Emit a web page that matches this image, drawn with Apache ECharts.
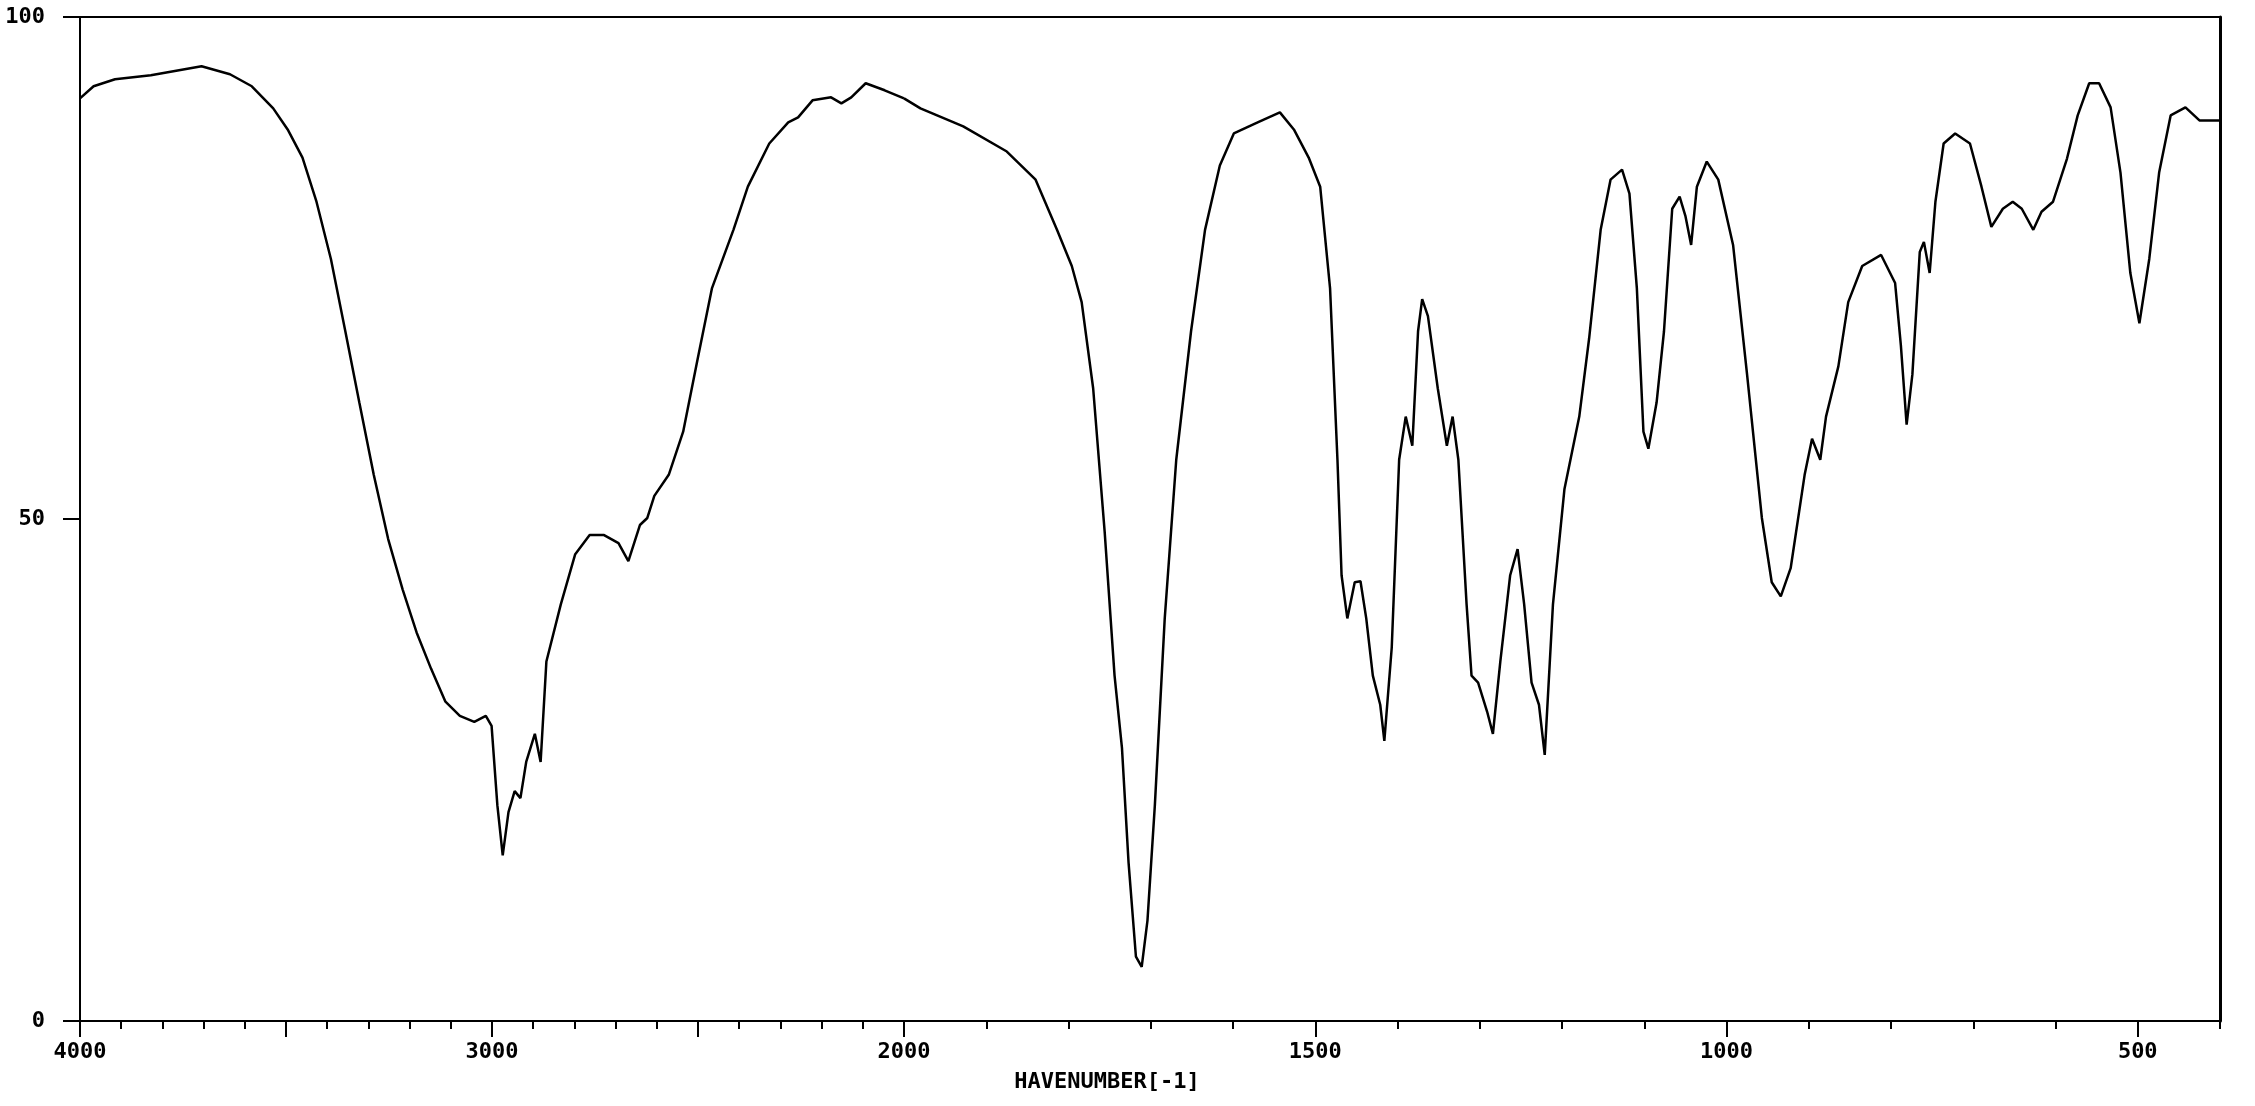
<!DOCTYPE html>
<html>
<head>
<meta charset="utf-8">
<script src="https://cdn.jsdelivr.net/npm/echarts@6/dist/echarts.min.js"></script>
<style>
html,body{margin:0;padding:0;background:#fff;}
#chart{width:2255px;height:1106px;}
</style>
</head>
<body>
<div id="chart"></div>
<script>
// Wavenumber (cm-1) and transmittance (%)
const wavenumbers = [
  4000, 3967, 3915, 3828, 3705, 3636, 3583, 3531, 3496, 3460, 3426, 3391, 3356, 3322, 3287, 3252,
  3217, 3183, 3148, 3113, 3078, 3043, 3015, 3001, 2987, 2974, 2960, 2945, 2931, 2917, 2896, 2882,
  2868, 2833, 2798, 2763, 2728, 2693, 2669, 2641, 2623, 2606, 2571, 2536, 2501, 2466, 2414, 2379,
  2327, 2281, 2257, 2222, 2177, 2152, 2128, 2093, 2047, 2000,
  1980, 1928, 1875, 1840, 1814, 1796, 1784, 1770, 1756, 1744, 1735, 1727, 1718, 1711, 1704, 1695,
  1683, 1669, 1651, 1634, 1616, 1599, 1570, 1543, 1526, 1508, 1494, 1482, 1473, 1468, 1461, 1452,
  1445, 1438, 1430, 1421, 1416, 1407, 1398, 1390, 1382, 1375, 1370, 1363, 1351, 1340, 1333, 1326,
  1316, 1310, 1302, 1291, 1284, 1275, 1263, 1254, 1246, 1237, 1228, 1221, 1211, 1197, 1179, 1167,
  1153, 1141, 1127, 1118, 1109, 1101, 1095, 1085, 1076, 1066, 1057, 1050, 1043, 1036, 1024, 1010,
  992, 975, 957, 945, 934, 922, 905, 896, 886, 879, 864, 852, 835, 812, 795, 788,
  781, 774, 765, 760, 753, 746, 736, 722, 704, 690, 678, 664, 652, 641, 627, 617,
  603, 586, 573, 559, 547, 533, 521, 509, 498, 486, 474, 460, 442, 425, 400
];
const transmittance = [
  91.9, 93.1, 93.8, 94.2, 95.1, 94.3, 93.1, 90.9, 88.8, 86.0, 81.6, 75.9, 68.7, 61.6, 54.4, 48.0,
  43.0, 38.7, 35.1, 31.8, 30.4, 29.8, 30.4, 29.4, 21.5, 16.5, 20.8, 22.9, 22.2, 25.8, 28.6, 25.8,
  35.8, 41.5, 46.5, 48.4, 48.4, 47.6, 45.8, 49.4, 50.1, 52.3, 54.4, 58.7, 65.9, 73.0, 78.8, 83.1,
  87.4, 89.5, 90.0, 91.7, 92.0, 91.4, 92.0, 93.4, 92.7, 91.9,
  90.9, 89.1, 86.6, 83.8, 78.8, 75.2, 71.6, 63.0, 48.7, 34.4, 27.2, 15.8, 6.4, 5.4, 10.0, 21.5,
  40.1, 55.9, 68.7, 78.8, 85.2, 88.4, 89.5, 90.5, 88.8, 86.0, 83.1, 73.0, 55.9, 44.4, 40.1, 43.7,
  43.8, 40.1, 34.4, 31.5, 27.9, 37.2, 55.9, 60.2, 57.3, 68.7, 71.9, 70.2, 63.0, 57.3, 60.2, 55.9,
  41.5, 34.4, 33.7, 30.8, 28.6, 35.8, 44.4, 47.0, 41.5, 33.7, 31.5, 26.5, 41.5, 53.0, 60.2, 68.0,
  78.8, 83.8, 84.8, 82.4, 73.0, 58.7, 57.0, 61.6, 68.7, 80.9, 82.1, 80.2, 77.3, 83.1, 85.6, 83.8,
  77.3, 64.4, 50.1, 43.7, 42.3, 45.1, 54.4, 58.0, 55.9, 60.2, 65.2, 71.6, 75.2, 76.3, 73.5, 67.3,
  59.4, 64.4, 76.6, 77.6, 74.5, 81.6, 87.4, 88.4, 87.4, 83.1, 79.1, 80.9, 81.6, 80.9, 78.8, 80.6,
  81.6, 85.9, 90.2, 93.4, 93.4, 91.0, 84.5, 74.5, 69.5, 75.9, 84.5, 90.2, 91.0, 89.7, 89.7
];
const xLabelsLeft = [4000, 3000, 2000];
const xLabelsRight = [1500, 1000, 500];
const yTickLabels = [0, 50, 100];
const xAxisTitle = 'HAVENUMBER[-1]';

const pairs = wavenumbers.map((w, i) => [w, transmittance[i]]);
const leftData = pairs.filter(p => p[0] >= 2000);
const rightData = pairs.filter(p => p[0] <= 2000);

const FONT = 'DejaVu Sans Mono';
const black = '#000';
const lineW = 2;
const labelStyle = {color: black, fontFamily: FONT, fontSize: 22, fontWeight: 'bold'};

const gridL = {left: 80, right: 1351, top: 17, bottom: 85};
const gridR = {left: 904, right: 35, top: 17, bottom: 85};

const chart = echarts.init(document.getElementById('chart'), null, {renderer: 'canvas'});
chart.setOption({
  animation: false,
  backgroundColor: '#fff',
  grid: [gridL, gridR, Object.assign({}, gridR)],
  xAxis: [
    {
      gridIndex: 0, type: 'value', min: 2000, max: 4000, interval: 500, inverse: true, position: 'bottom',
      axisLine: {show: true, onZero: false, lineStyle: {color: black, width: lineW}},
      axisTick: {show: true, length: 16, lineStyle: {color: black, width: lineW}},
      minorTick: {show: true, splitNumber: 5, length: 8, lineStyle: {color: black, width: lineW}},
      axisLabel: Object.assign({show: true, margin: 20, customValues: xLabelsLeft, formatter: v => String(v)}, labelStyle),
      splitLine: {show: false}, minorSplitLine: {show: false}
    },
    {
      gridIndex: 0, type: 'value', min: 2000, max: 4000, inverse: true, position: 'top',
      axisLine: {show: true, onZero: false, lineStyle: {color: black, width: lineW}},
      axisTick: {show: false}, axisLabel: {show: false}, splitLine: {show: false}
    },
    {
      gridIndex: 1, type: 'value', min: 400, max: 2000, interval: 100, inverse: true, position: 'bottom',
      axisLine: {show: true, onZero: false, lineStyle: {color: black, width: lineW}},
      axisTick: {show: true, length: 8, lineStyle: {color: black, width: lineW}},
      axisLabel: {show: false},
      splitLine: {show: false}
    },
    {
      gridIndex: 1, type: 'value', min: 400, max: 2000, inverse: true, position: 'top',
      axisLine: {show: true, onZero: false, lineStyle: {color: black, width: lineW}},
      axisTick: {show: false}, axisLabel: {show: false}, splitLine: {show: false}
    },
    {
      gridIndex: 2, type: 'value', min: 400, max: 2000, inverse: true, position: 'bottom',
      axisLine: {show: false, onZero: false},
      axisTick: {show: true, length: 16, customValues: xLabelsRight, lineStyle: {color: black, width: lineW}},
      axisLabel: Object.assign({show: true, margin: 20, customValues: xLabelsRight, formatter: v => String(v)}, labelStyle),
      splitLine: {show: false}
    }
  ],
  yAxis: [
    {
      gridIndex: 0, type: 'value', min: 0, max: 100, interval: 50,
      axisLine: {show: true, onZero: false, lineStyle: {color: black, width: lineW}},
      axisTick: {show: true, length: 17, lineStyle: {color: black, width: lineW}},
      axisLabel: Object.assign({show: true, margin: 35, customValues: yTickLabels, formatter: v => String(v)}, labelStyle),
      splitLine: {show: false}
    },
    {
      gridIndex: 1, type: 'value', min: 0, max: 100, position: 'right',
      axisLine: {show: true, onZero: false, lineStyle: {color: black, width: 3}},
      axisTick: {show: false}, axisLabel: {show: false}, splitLine: {show: false}
    },
    {
      gridIndex: 2, type: 'value', min: 0, max: 100, show: false
    }
  ],
  graphic: [
    {
      type: 'text', x: 1107, y: 1082,
      style: {text: xAxisTitle, fill: black, font: 'bold 22px "DejaVu Sans Mono"', textAlign: 'center', textVerticalAlign: 'middle'}
    }
  ],
  series: [
    {
      type: 'line', xAxisIndex: 0, yAxisIndex: 0, data: leftData, showSymbol: false, smooth: false,
      lineStyle: {color: black, width: 2.5}, silent: true
    },
    {
      type: 'line', xAxisIndex: 2, yAxisIndex: 1, data: rightData, showSymbol: false, smooth: false,
      lineStyle: {color: black, width: 2.5}, silent: true
    }
  ]
});
</script>
</body>
</html>
